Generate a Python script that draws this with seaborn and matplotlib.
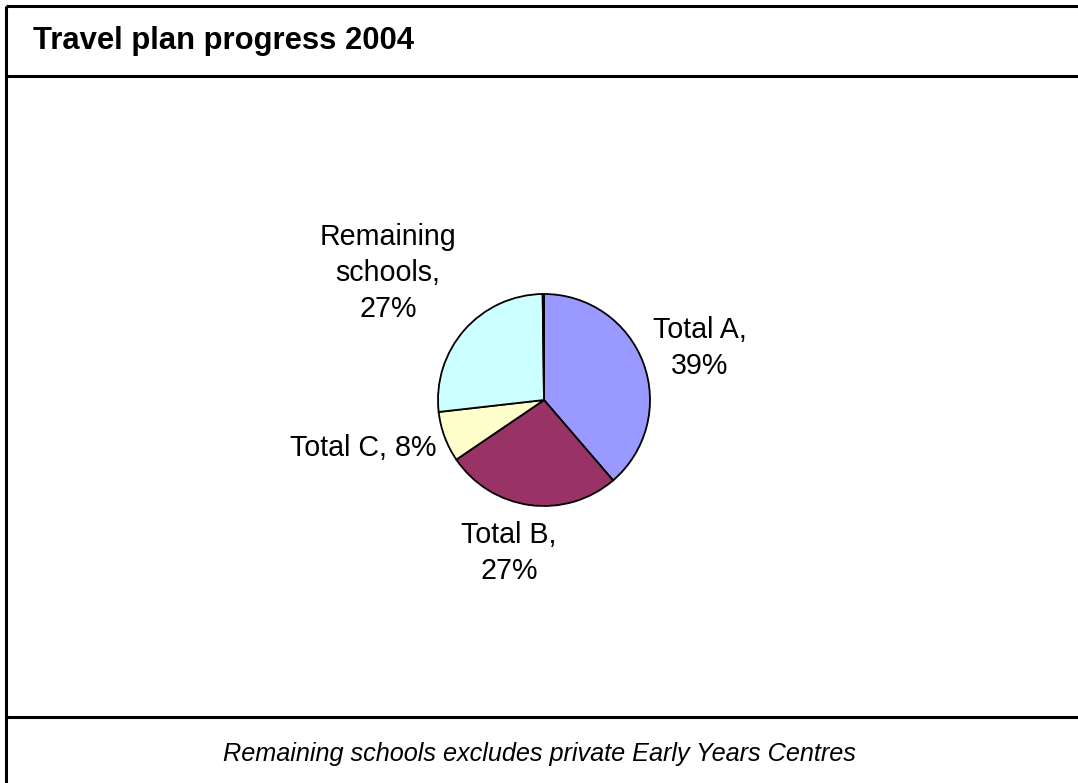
import matplotlib
matplotlib.use("Agg")
import matplotlib.pyplot as plt
from matplotlib.lines import Line2D
import seaborn as sns

# data
categories = ["Total A", "Total B", "Total C", "Remaining schools", ""]
shares = [38.7, 26.8, 7.7, 26.6, 0.2]
slice_colors = ["#9999FF", "#993366", "#FFFFCC", "#CCFFFF", "#FFFFFF"]
title = "Travel plan progress 2004"
footnote = "Remaining schools excludes private Early Years Centres"

# label layout (pixel coords, y from top)
label_pos = [(700, 348), (509, 553), (363, 448), (388, 273), None]
label_text = ["Total A,\n{}%", "Total B,\n{}%", "Total C, {}%", "Remaining\nschools,\n{}%", None]

sns.set_theme(style="white")
plt.rcParams["font.family"] = ["Liberation Sans", "DejaVu Sans"]

W, H = 1078, 783
fig = plt.figure(figsize=(W / 100, H / 100), dpi=100)
fig.patch.set_facecolor("white")
ax = fig.add_axes([0, 0, 1, 1])

ax.pie(shares, colors=slice_colors, startangle=90, counterclock=False,
       center=(544, H - 400), radius=106,
       wedgeprops=dict(edgecolor="black", linewidth=1.3))
# pie resets the limits, so set them afterwards
ax.set_xlim(0, W)
ax.set_ylim(0, H)
ax.set_aspect("equal")
ax.axis("off")

for i, pos in enumerate(label_pos):
    if pos is None:
        continue
    txt = label_text[i].format(round(shares[i]))
    ax.text(pos[0], H - pos[1], txt, ha="center", va="center",
            fontsize=20.6, linespacing=1.36, color="black")

# frame
lw = 2.2
for (x0, y0, x1, y1) in [(6, 6, 6, H), (6, 6, W, 6), (6, 76, W, 76), (6, 717, W, 717)]:
    fig.add_artist(Line2D([x0 / W, x1 / W], [1 - y0 / H, 1 - y1 / H],
                          color="black", linewidth=lw, solid_capstyle="butt"))

fig.text(33 / W, 1 - 41 / H, title, ha="left", va="center",
         fontsize=22.3, fontweight="bold", color="black")
fig.text(539 / W, 1 - 754 / H, footnote, ha="center", va="center",
         fontsize=18.2, fontstyle="italic", color="black")

fig.savefig("out.png", dpi=100)
